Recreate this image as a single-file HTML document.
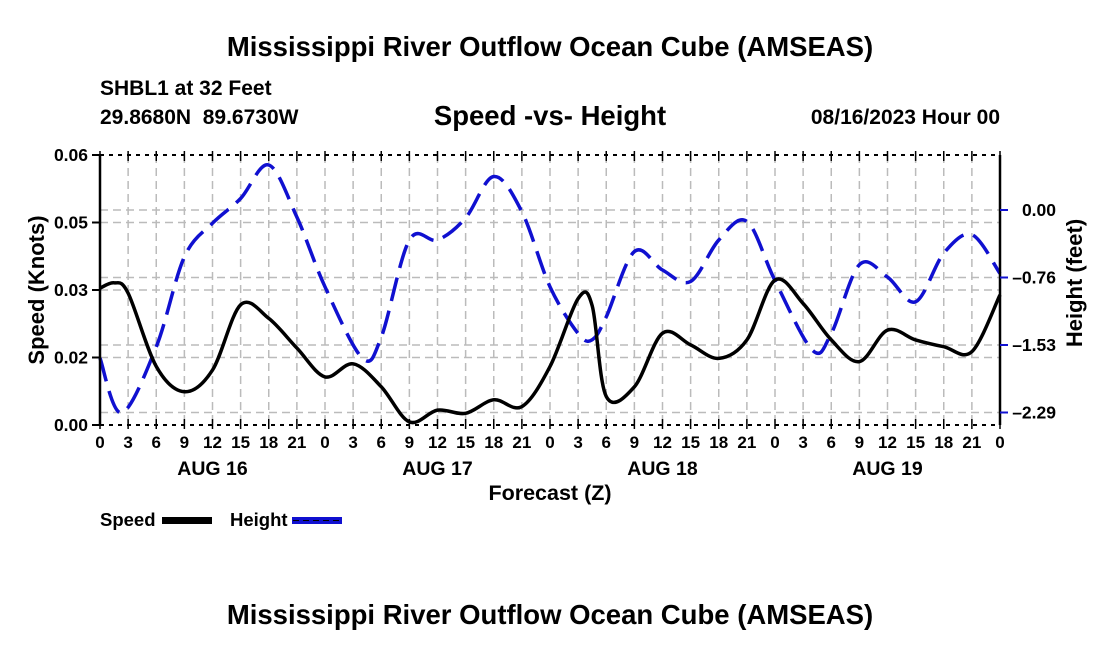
<!DOCTYPE html>
<html><head><meta charset="utf-8">
<style>
body{margin:0;background:#fff;}
svg{display:block;font-family:"Liberation Sans",Arial,sans-serif;font-weight:bold;}
</style></head>
<body>
<svg id="chart" width="1100" height="650" viewBox="0 0 1100 650">
<text x="550" y="56" font-size="27.5" text-anchor="middle">Mississippi River Outflow Ocean Cube (AMSEAS)</text>
<text x="100" y="95" font-size="21">SHBL1 at 32 Feet</text>
<text x="100" y="124" font-size="21">29.8680N&#160;&#160;89.6730W</text>
<text x="550" y="125" font-size="27.5" text-anchor="middle">Speed -vs- Height</text>
<text x="1000" y="124" font-size="21" text-anchor="end">08/16/2023 Hour 00</text>
<g id="grid"></g>
<g id="series"></g>
<g id="axes"></g>
<text x="550" y="500" font-size="21.5" text-anchor="middle">Forecast (Z)</text>
<text transform="translate(44,290) rotate(-90)" font-size="22" text-anchor="middle">Speed (Knots)</text>
<text transform="translate(1082,283) rotate(-90)" font-size="22" text-anchor="middle">Height (feet)</text>
<g>
<text x="100" y="526" font-size="18.5">Speed</text>
<rect x="162" y="517" width="50" height="7" fill="#000"/>
<text x="230" y="526" font-size="18.5">Height</text>
<rect x="292" y="517" width="50" height="7" fill="#1010d0"/>
<line x1="293" y1="520.5" x2="342" y2="520.5" stroke="#000" stroke-width="1" stroke-dasharray="6,4"/>
</g>
<text x="550" y="624" font-size="27.5" text-anchor="middle">Mississippi River Outflow Ocean Cube (AMSEAS)</text>
</svg>
<script>
const speedHours=[0,1.5,3,6,9,12,15,18,21,24,27,30,33,36,39,42,45,48,51,52.5,54,57,60,63,66,69,72,75,78,81,84,87,90,93,96];
const speedValues=[0.0304,0.0316,0.0293,0.0130,0.0074,0.0122,0.0267,0.0237,0.0171,0.0107,0.0136,0.0085,0.0007,0.0033,0.0026,0.0056,0.0041,0.0130,0.0281,0.0265,0.0063,0.0085,0.0204,0.0178,0.0148,0.0189,0.0322,0.0270,0.0189,0.0141,0.0211,0.0189,0.0174,0.0163,0.0289];
const heightHours=[0,2.3,6,9,12,15,18,21,24,28,30,33,36,39,42,45,48,51,52.5,54,57,60,63,66,69,72,76,78,81,84,87,90,93,96];
const heightValues=[-1.68,-2.30,-1.55,-0.53,-0.15,0.13,0.51,-0.08,-0.87,-1.68,-1.44,-0.34,-0.34,-0.09,0.38,-0.02,-0.87,-1.40,-1.47,-1.21,-0.47,-0.68,-0.81,-0.34,-0.13,-0.80,-1.59,-1.40,-0.62,-0.76,-1.04,-0.49,-0.28,-0.72];
const speedTickValues=[0,0.015,0.03,0.045,0.06];
const speedTickLabels=["0.00","0.02","0.03","0.05","0.06"];
const heightTickValues=[-2.295,-1.53,-0.765,0];
const heightTickLabels=["\u20132.29","\u20131.53","\u20130.76","0.00"];
const dayLabels=["AUG 16","AUG 17","AUG 18","AUG 19"];

const L=100,R=1000,T=155,B=425;
const xS=h=>L+(h/96)*(R-L);
const yS=v=>B-(v/0.06)*(B-T);
const yH=v=>210-(v/0.765)*67.5;
const NS="http://www.w3.org/2000/svg";
function mk(tag,attrs,parent){const e=document.createElementNS(NS,tag);for(const k in attrs)e.setAttribute(k,attrs[k]);parent.appendChild(e);return e;}
const grid=document.getElementById('grid'),axes=document.getElementById('axes'),series=document.getElementById('series');

for(let h=3;h<96;h+=3){
  const g=mk('line',{x1:xS(h),x2:xS(h),y1:T,y2:B,stroke:'#bbb','stroke-width':1.5,'stroke-dasharray':'8,5'},grid);
  
  
}
speedTickValues.slice(1,-1).forEach(v=>{
  const g=mk('line',{x1:L,x2:R,y1:yS(v),y2:yS(v),stroke:'#bbb','stroke-width':1.5,'stroke-dasharray':'8,5'},grid);
  
  
});
heightTickValues.forEach(v=>{
  const g=mk('line',{x1:L,x2:R,y1:yH(v),y2:yH(v),stroke:'#bbb','stroke-width':1.5,'stroke-dasharray':'8,5'},grid);
  
  
});

function spline(xs,ys){
  const p=xs.map((x,i)=>[x,ys[i]]);
  let d=`M${p[0][0].toFixed(1)},${p[0][1].toFixed(1)}`;
  for(let i=0;i<p.length-1;i++){
    const p0=p[Math.max(0,i-1)],p1=p[i],p2=p[i+1],p3=p[Math.min(p.length-1,i+2)];
    const c1=[p1[0]+(p2[0]-p0[0])/6,p1[1]+(p2[1]-p0[1])/6];
    const c2=[p2[0]-(p3[0]-p1[0])/6,p2[1]-(p3[1]-p1[1])/6];
    d+=`C${c1[0].toFixed(1)},${c1[1].toFixed(1)} ${c2[0].toFixed(1)},${c2[1].toFixed(1)} ${p2[0].toFixed(1)},${p2[1].toFixed(1)}`;
  }
  return d;
}
const hp=mk('path',{d:spline(heightHours.map(xS),heightValues.map(yH)),fill:'none',stroke:'#1010d0','stroke-width':3.5,'stroke-dasharray':'24,10'},series);


const sp=mk('path',{d:spline(speedHours.map(xS),speedValues.map(yS)),fill:'none',stroke:'#000','stroke-width':3.5},series);



const a1=mk('line',{x1:L,x2:L,y1:T,y2:B,stroke:'#000','stroke-width':2.5},axes);


const a2=mk('line',{x1:R,x2:R,y1:T,y2:B,stroke:'#000','stroke-width':2.5},axes);


const a3=mk('line',{x1:L,x2:R,y1:T,y2:T,stroke:'#000','stroke-width':2,'stroke-dasharray':'4,5'},axes);


const a4=mk('line',{x1:L,x2:R,y1:B,y2:B,stroke:'#000','stroke-width':2,'stroke-dasharray':'4,5'},axes);


for(let h=0;h<=96;h+=3){
  const t=mk('line',{x1:xS(h),x2:xS(h),y1:B-6,y2:B+4,stroke:'#000','stroke-width':1.5},axes);
  
  
  const t2=mk('line',{x1:xS(h),x2:xS(h),y1:T-4,y2:T+6,stroke:'#000','stroke-width':1.5},axes);
  
  
  const lb=mk('text',{x:xS(h),y:448,'font-size':17,'text-anchor':'middle'},axes);
  lb.textContent=String(h%24);
  
  
}
dayLabels.forEach((d,i)=>{
  const t=mk('text',{x:xS(i*24+12),y:475,'font-size':19.5,'text-anchor':'middle'},axes);
  t.textContent=d;
  
  
});
speedTickValues.forEach((v,i)=>{
  const t=mk('line',{x1:L-8,x2:L,y1:yS(v),y2:yS(v),stroke:'#000','stroke-width':2},axes);
  
  
  const lb=mk('text',{x:L-12,y:yS(v)+6,'font-size':17.5,'text-anchor':'end'},axes);
  lb.textContent=speedTickLabels[i];
  
  
});
heightTickValues.forEach((v,i)=>{
  const t=mk('line',{x1:R,x2:R+8,y1:yH(v),y2:yH(v),stroke:'#1010d0','stroke-width':2},axes);
  
  
  const lb=mk('text',{x:1056,y:yH(v)+6,'font-size':17.5,'text-anchor':'end'},axes);
  lb.textContent=heightTickLabels[i];
  
  
});
</script>
</body></html>
